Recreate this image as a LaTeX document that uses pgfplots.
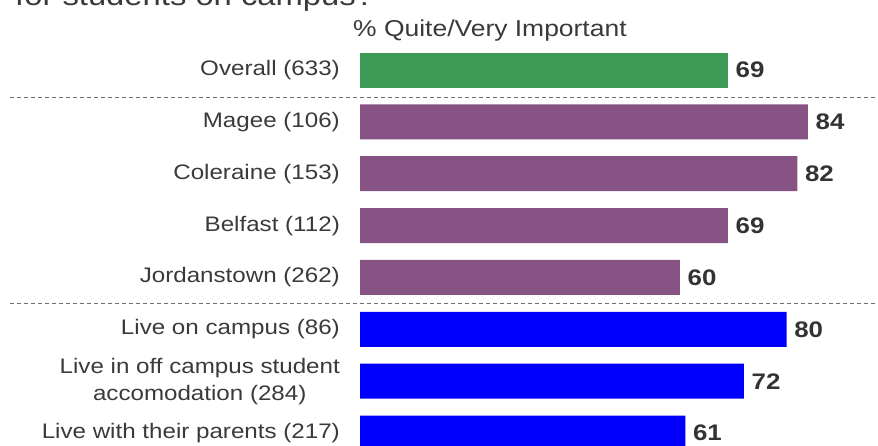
\documentclass[border=0pt]{standalone}
\usepackage{fontspec}
\setmainfont{Liberation Sans}[FakeStretch=1.15]
\usepackage{pgfplots}
\pgfplotsset{compat=1.18}
\definecolor{cgreen}{HTML}{3D9A57}
\definecolor{cpurple}{HTML}{875384}
\definecolor{cblue}{HTML}{0000FF}
\definecolor{labgray}{HTML}{3A3A3A}
\definecolor{valgray}{HTML}{333333}
\definecolor{dashgray}{HTML}{707070}
\newcommand{\lab}{\fontsize{21}{27}\selectfont}
\newcommand{\val}{\fontsize{22.5}{26}\selectfont\bfseries}
\begin{document}
\begin{tikzpicture}
\useasboundingbox (0pt,0pt) rectangle (878pt,-446pt);
\node[anchor=base west, inner sep=0pt, text=labgray, font=\fontsize{28.5}{33}\selectfont] at (15pt,-5.5pt) {for students on campus?};
\node[anchor=base west, inner sep=0pt, text=labgray, font=\fontsize{23}{28}\selectfont] at (353pt,-37pt) {\% Quite/Very Important};
\begin{axis}[
  at={(360pt,0pt)}, anchor=north west,
  scale only axis, width=518pt, height=446pt,
  xmin=0, xmax=97.13, ymin=-1.35, ymax=7.25, y dir=reverse,
  xbar, bar width=35pt, bar shift=0pt,
  axis line style={draw=none}, xtick=\empty,
  ytick={0,1,2,3,4,5,6,7}, major tick length=0pt,
  yticklabels={Overall (633), Magee (106), Coleraine (153), Belfast (112), Jordanstown (262), Live on campus (86), {Live in off campus student\\accomodation (284)}, Live with their parents (217)},
  yticklabel style={font=\lab, text=labgray, align=center, inner sep=0pt, xshift=-20pt},
  nodes near coords,
  nodes near coords style={font=\val, text=valgray, anchor=west, inner sep=0pt, xshift=7.5pt},
  /pgf/number format/assume math mode=true,
  clip=false,
]
\addplot[fill=cgreen, draw=none] coordinates {(69,0)};
\addplot[fill=cpurple, draw=none] coordinates {(84,1) (82,2) (69,3) (60,4)};
\addplot[fill=cblue, draw=none] coordinates {(80,5) (72,6) (61,7)};
\end{axis}
\draw[dashgray, line width=0.9pt, dash pattern=on 4pt off 3pt] (10pt,-97pt) -- (877pt,-97pt);
\draw[dashgray, line width=0.9pt, dash pattern=on 4pt off 3pt] (10pt,-303pt) -- (877pt,-303pt);
\end{tikzpicture}
\end{document}
